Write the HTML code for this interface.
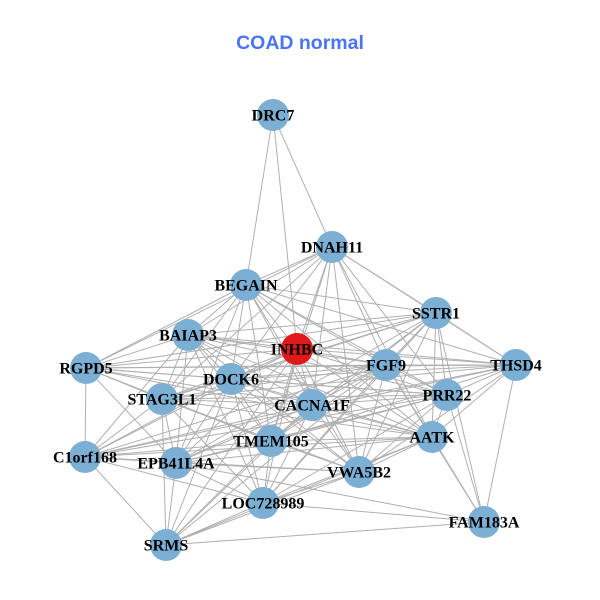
<!DOCTYPE html>
<html><head><meta charset="utf-8"><style>
html,body{margin:0;padding:0;background:#fff;}
svg{display:block;}
</style></head><body>
<svg width="600" height="600" viewBox="0 0 600 600" xmlns="http://www.w3.org/2000/svg">
<rect width="600" height="600" fill="#fff"/>
<text x="300" y="49" text-anchor="middle" font-family="Liberation Sans, sans-serif" font-weight="bold" font-size="19.5" fill="#4a74f2">COAD normal</text>
<g id="edges" stroke="#b0b0b0" stroke-width="1" fill="none"></g>
<g id="nodes"></g>
</svg>
<script>
var N={
DRC7:[273,115],DNAH11:[332,247],BEGAIN:[246,285],SSTR1:[436,313],BAIAP3:[188,335],
INHBC:[297,349],RGPD5:[86,368],DOCK6:[231,379],FGF9:[386,365],THSD4:[516,365],
STAG3L1:[162,399],PRR22:[447,395],CACNA1F:[312,405],TMEM105:[271,441],AATK:[432,437],
C1orf168:[85,457],EPB41L4A:[176,463],VWA5B2:[359,472],LOC728989:[263,503],FAM183A:[484,522],SRMS:[166,545]};
var E={
DRC7:"BEGAIN DNAH11 INHBC",
DNAH11:"BEGAIN SSTR1 BAIAP3 RGPD5 DOCK6 INHBC FGF9 PRR22 AATK CACNA1F TMEM105 VWA5B2 STAG3L1 THSD4",
BEGAIN:"SSTR1 BAIAP3 RGPD5 INHBC DOCK6 FGF9 THSD4 STAG3L1 CACNA1F TMEM105 PRR22 AATK VWA5B2 EPB41L4A",
SSTR1:"BAIAP3 INHBC FGF9 THSD4 PRR22 AATK CACNA1F TMEM105 DOCK6 STAG3L1 VWA5B2 RGPD5 FAM183A EPB41L4A LOC728989",
BAIAP3:"RGPD5 INHBC DOCK6 FGF9 THSD4 STAG3L1 PRR22 CACNA1F TMEM105 EPB41L4A AATK C1orf168 LOC728989 VWA5B2",
INHBC:"RGPD5 DOCK6 FGF9 THSD4 STAG3L1 PRR22 CACNA1F TMEM105 AATK C1orf168 EPB41L4A VWA5B2 LOC728989 SRMS",
RGPD5:"DOCK6 STAG3L1 C1orf168 FGF9 PRR22 CACNA1F TMEM105 EPB41L4A AATK THSD4",
DOCK6:"FGF9 STAG3L1 PRR22 CACNA1F TMEM105 AATK C1orf168 EPB41L4A VWA5B2 LOC728989 SRMS THSD4",
FGF9:"THSD4 STAG3L1 PRR22 CACNA1F TMEM105 AATK C1orf168 EPB41L4A VWA5B2 LOC728989 SRMS FAM183A",
THSD4:"PRR22 CACNA1F AATK STAG3L1 TMEM105 VWA5B2 FAM183A C1orf168",
STAG3L1:"PRR22 CACNA1F TMEM105 AATK C1orf168 EPB41L4A VWA5B2 LOC728989 SRMS",
PRR22:"CACNA1F TMEM105 AATK C1orf168 EPB41L4A VWA5B2 FAM183A LOC728989",
CACNA1F:"TMEM105 AATK C1orf168 EPB41L4A VWA5B2 LOC728989 SRMS",
TMEM105:"AATK C1orf168 EPB41L4A VWA5B2 LOC728989 SRMS",
AATK:"C1orf168 EPB41L4A VWA5B2 LOC728989 FAM183A SRMS",
C1orf168:"EPB41L4A SRMS VWA5B2 LOC728989",
EPB41L4A:"VWA5B2 LOC728989 SRMS FAM183A",
VWA5B2:"LOC728989 SRMS",
LOC728989:"SRMS FAM183A",
FAM183A:"SRMS"};
var ns="http://www.w3.org/2000/svg";
var ge=document.getElementById("edges"),gn=document.getElementById("nodes");
for(var a in E){E[a].split(" ").forEach(function(b){
 var l=document.createElementNS(ns,"line");
 l.setAttribute("x1",N[a][0]);l.setAttribute("y1",N[a][1]);
 l.setAttribute("x2",N[b][0]);l.setAttribute("y2",N[b][1]);
 ge.appendChild(l);});}
for(var k in N){
 var c=document.createElementNS(ns,"circle");
 c.setAttribute("cx",N[k][0]);c.setAttribute("cy",N[k][1]);c.setAttribute("r",16);
 c.setAttribute("fill",k=="INHBC"?"#e0191b":"#7bafd4");
 gn.appendChild(c);}
for(var k in N){
 var t=document.createElementNS(ns,"text");
 t.setAttribute("x",N[k][0]);t.setAttribute("y",N[k][1]+5.5);
 t.setAttribute("text-anchor","middle");
 t.setAttribute("font-family","Liberation Serif, serif");
 t.setAttribute("font-weight","bold");t.setAttribute("font-size","16");
 t.setAttribute("fill","#000");
 t.textContent=k;gn.appendChild(t);}
</script>
</body></html>
